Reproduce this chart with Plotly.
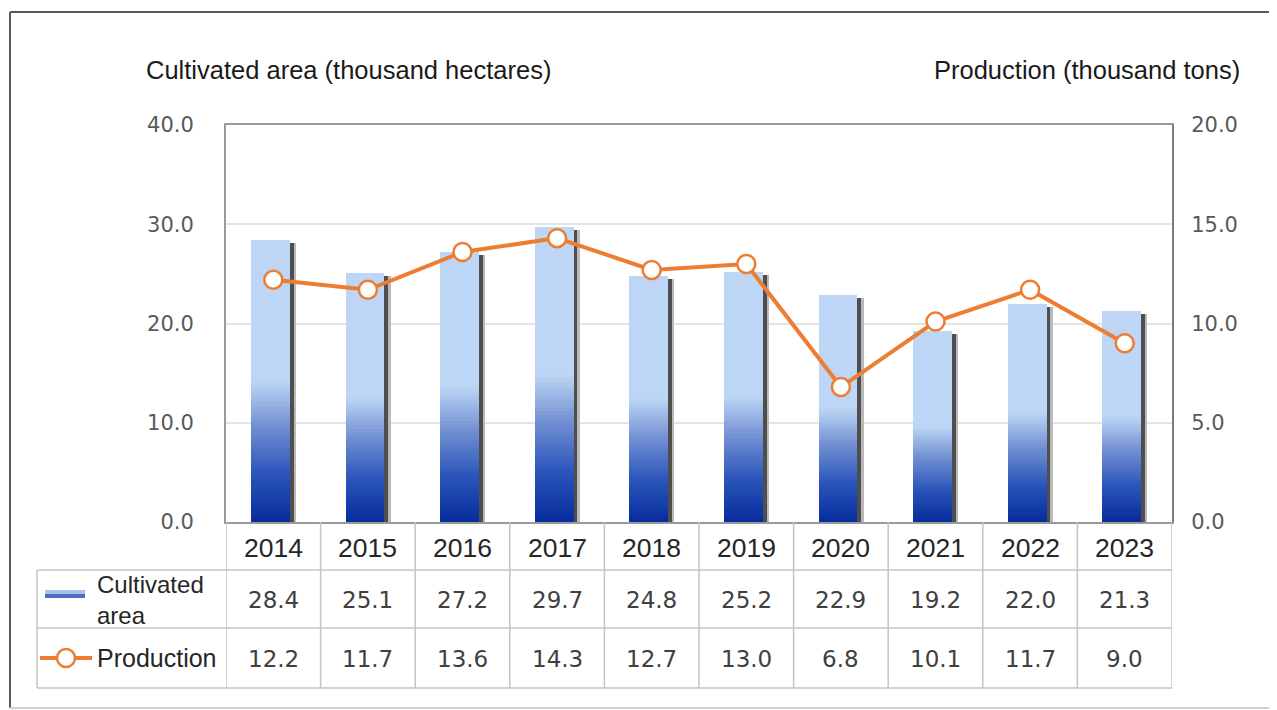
import plotly.graph_objects as go

years = ["2014", "2015", "2016", "2017", "2018", "2019", "2020", "2021", "2022", "2023"]
area = [28.4, 25.1, 27.2, 29.7, 24.8, 25.2, 22.9, 19.2, 22.0, 21.3]
production = [12.2, 11.7, 13.6, 14.3, 12.7, 13.0, 6.8, 10.1, 11.7, 9.0]
left_ticks = [0, 10, 20, 30, 40]
right_ticks = [0, 5, 10, 15, 20]

# page is offset by the browser's 8px body margin
OFF = 8
W, H = 1277 - OFF, 710 - OFF
L, R, T, B = 226, 1172, 125, 522   # plot area in page pixels
FONT = "Liberation Sans, Arial, sans-serif"
NUMFONT = "DejaVu Sans, Verdana, sans-serif"


def px(x):
    return (x - L) / (R - L)


def py(y):
    return (B - y) / (B - T)


STOPS = [(0.0, (6, 44, 156)), (0.35, (44, 86, 186)), (0.7, (118, 148, 212)), (1.0, (189, 214, 245))]


def grad(f):
    for (f0, c0), (f1, c1) in zip(STOPS[:-1], STOPS[1:]):
        if f <= f1:
            t = (f - f0) / (f1 - f0)
            return "rgb(%d,%d,%d)" % tuple(round(a + (b - a) * t) for a, b in zip(c0, c1))
    return "rgb(%d,%d,%d)" % STOPS[-1][1]


LIGHT = "rgb(189,214,245)"
BAR_W = 0.41
BAR_OFF = -0.235

fig = go.Figure()

# shadows
fig.add_trace(go.Bar(x=years, y=[v - 0.3 for v in area], width=0.045, offset=BAR_OFF + BAR_W,
                     marker=dict(color="rgb(78,78,78)", line=dict(width=0)), hoverinfo="skip", showlegend=False))
fig.add_trace(go.Bar(x=years, y=[v - 0.3 for v in area], width=0.02, offset=BAR_OFF + BAR_W + 0.045,
                     marker=dict(color="rgb(185,185,185)", line=dict(width=0)), hoverinfo="skip", showlegend=False))

# gradient bars: bottom half built from thin stacked segments, top half flat light colour
N = 40
for k in range(N):
    seg = [v / 2 / N for v in area]
    base = [k * v / 2 / N for v in area]
    fig.add_trace(go.Bar(x=years, y=[s * 1.05 for s in seg], base=base, width=BAR_W, offset=BAR_OFF,
                         marker=dict(color=grad((k + 0.5) / N), line=dict(width=0)),
                         hoverinfo="skip", showlegend=False))
fig.add_trace(go.Bar(x=years, y=[v / 2 for v in area], base=[v / 2 for v in area], width=BAR_W, offset=BAR_OFF,
                     marker=dict(color=LIGHT, line=dict(width=0)), name="Cultivated area", showlegend=False))

fig.add_trace(go.Scatter(x=years, y=production, yaxis="y2", mode="lines+markers", name="Production",
                         line=dict(color="#ed7d31", width=4),
                         marker=dict(symbol="circle", size=18, color="white", line=dict(color="#ed7d31", width=2.5)),
                         showlegend=False))

shapes = []
annots = []
GRID = "#c4c4c4"

# table lines
for i in range(len(years) + 1):
    shapes.append(dict(type="line", xref="x", yref="paper", x0=i - 0.5, x1=i - 0.5, y0=py(B), y1=py(688),
                       line=dict(color=GRID, width=1.5)))
for yy in [570, 628, 688]:
    shapes.append(dict(type="line", xref="paper", yref="paper", x0=px(37), x1=1, y0=py(yy), y1=py(yy),
                       line=dict(color=GRID, width=1.5)))
shapes.append(dict(type="line", xref="paper", yref="paper", x0=px(37), x1=px(37), y0=py(570), y1=py(688),
                   line=dict(color=GRID, width=1.5)))

# outer frame
shapes.append(dict(type="line", xref="paper", yref="paper", x0=px(10), x1=px(1300), y0=py(12), y1=py(12),
                   line=dict(color="#5a5a5a", width=2)))
shapes.append(dict(type="line", xref="paper", yref="paper", x0=px(10), x1=px(10), y0=py(12), y1=py(708),
                   line=dict(color="#5a5a5a", width=2)))
shapes.append(dict(type="line", xref="paper", yref="paper", x0=px(10), x1=px(1300), y0=py(708), y1=py(708),
                   line=dict(color="#d0d0d0", width=2)))

# legend icons
shapes.append(dict(type="rect", xref="paper", yref="paper", x0=px(45), x1=px(85), y0=py(590), y1=py(594),
                   fillcolor="#a9c4ec", line=dict(width=0)))
shapes.append(dict(type="rect", xref="paper", yref="paper", x0=px(45), x1=px(85), y0=py(594), y1=py(598),
                   fillcolor="#4a6fc4", line=dict(width=0)))
shapes.append(dict(type="line", xref="paper", yref="paper", x0=px(40), x1=px(92), y0=py(658), y1=py(658),
                   line=dict(color="#ed7d31", width=4)))
shapes.append(dict(type="circle", xref="paper", yref="paper", x0=px(57), x1=px(75), y0=py(649), y1=py(667),
                   fillcolor="white", line=dict(color="#ed7d31", width=2.5)))

for i, yr in enumerate(years):
    annots.append(dict(x=i, y=py(548), xref="x", yref="paper", text=yr, showarrow=False,
                       font=dict(family=FONT, size=26.5, color="#262626"), xanchor="center", yanchor="middle"))
    annots.append(dict(x=i, y=py(600), xref="x", yref="paper", text=f"{area[i]:.1f}", showarrow=False,
                       font=dict(family=NUMFONT, size=23, color="#404040"), xanchor="center", yanchor="middle"))
    annots.append(dict(x=i, y=py(659), xref="x", yref="paper", text=f"{production[i]:.1f}", showarrow=False,
                       font=dict(family=NUMFONT, size=23, color="#404040"), xanchor="center", yanchor="middle"))

annots.append(dict(x=px(95), y=py(599.5), xref="paper", yref="paper", text="Cultivated<br>area", showarrow=False,
                   align="left", font=dict(family=FONT, size=24, color="#262626"), xanchor="left", yanchor="middle"))
annots.append(dict(x=px(95), y=py(658), xref="paper", yref="paper", text="Production", showarrow=False,
                   align="left", font=dict(family=FONT, size=25, color="#262626"), xanchor="left", yanchor="middle"))

annots.append(dict(x=px(144), y=py(70), xref="paper", yref="paper", text="Cultivated area (thousand hectares)",
                   showarrow=False, font=dict(family=FONT, size=25.5, color="#1a1a1a"), xanchor="left", yanchor="middle"))
annots.append(dict(x=px(1242), y=py(70), xref="paper", yref="paper", text="Production (thousand tons)",
                   showarrow=False, font=dict(family=FONT, size=25.5, color="#1a1a1a"), xanchor="right", yanchor="middle"))

fig.update_layout(
    width=W, height=H,
    margin=dict(l=L - OFF, r=W - (R - OFF), t=T - OFF, b=H - (B - OFF), pad=0),
    paper_bgcolor="white", plot_bgcolor="white",
    barmode="overlay", bargap=0,
    font=dict(family=FONT),
    xaxis=dict(type="category", showticklabels=False, ticks="", showgrid=False, zeroline=False,
               showline=True, linecolor="#9a9a9a", linewidth=2, mirror=True, range=[-0.5, 9.5]),
    yaxis=dict(range=[0, 40], tickvals=left_ticks, ticktext=[f"{v:.1f}" for v in left_ticks],
               showgrid=True, gridcolor="#e4e4e4", gridwidth=1.5, zeroline=False,
               showline=True, linecolor="#9a9a9a", linewidth=2, mirror=True,
               tickfont=dict(family=NUMFONT, size=21, color="#595959"), ticks="", ticklabelstandoff=26),
    yaxis2=dict(range=[0, 20], tickvals=right_ticks, ticktext=[f"{v:.1f}" for v in right_ticks],
                overlaying="y", side="right", showgrid=False, zeroline=False, showline=True,
                linecolor="#7a7a7a", linewidth=2,
                tickfont=dict(family=NUMFONT, size=21, color="#595959"), ticks="", ticklabelstandoff=13),
    shapes=shapes, annotations=annots, showlegend=False,
)

fig.write_html("out.html")
